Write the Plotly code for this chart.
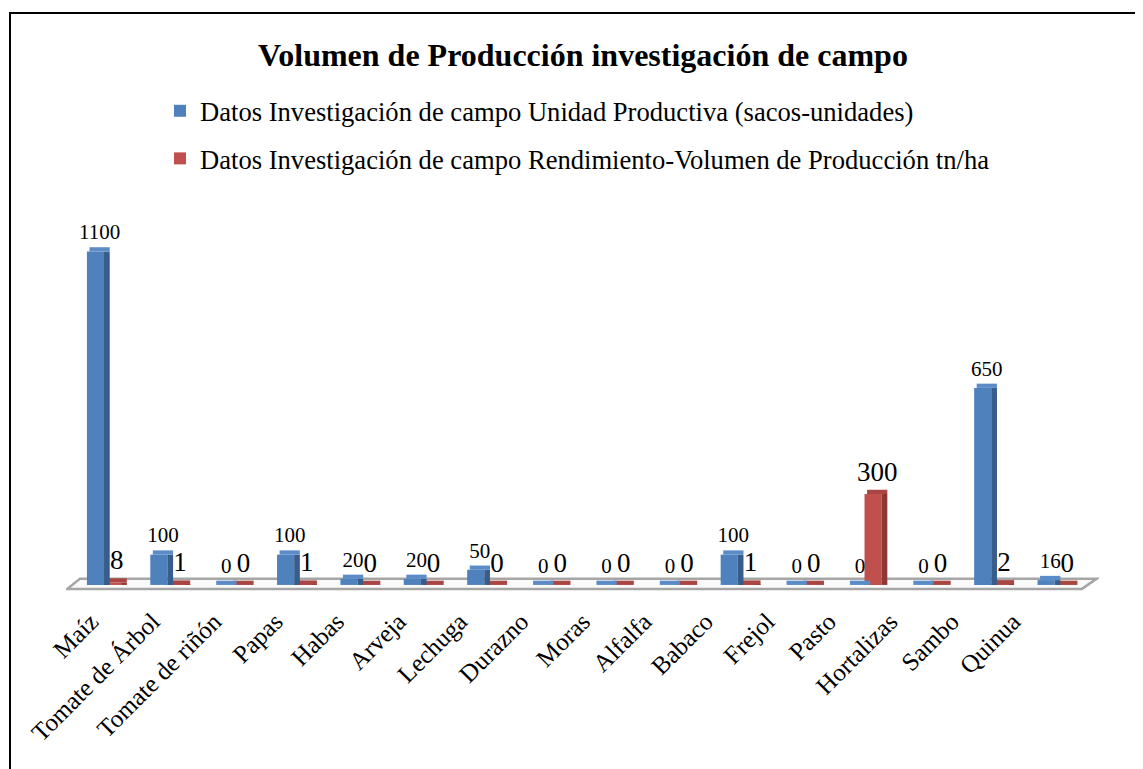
import plotly.graph_objects as go

categories = ["Maíz", "Tomate de Árbol", "Tomate de riñón", "Papas", "Habas", "Arveja",
              "Lechuga", "Durazno", "Moras", "Alfalfa", "Babaco", "Frejol", "Pasto",
              "Hortalizas", "Sambo", "Quinua"]
unidad_productiva = [1100, 100, 0, 100, 20, 20, 50, 0, 0, 0, 100, 0, 0, 0, 650, 16]
rendimiento = [8, 1, 0, 1, 0, 0, 0, 0, 0, 0, 1, 0, 300, 0, 2, 0]

name_blue = "Datos Investigación de campo Unidad Productiva (sacos-unidades)"
name_red = "Datos Investigación de campo Rendimiento-Volumen de Producción tn/ha"

FONT = "Liberation Serif, Times New Roman, serif"
BLUE, BLUE_SIDE, BLUE_TOP = "#4F81BD", "#385D8A", "#5B8CC8"
RED, RED_SIDE, RED_TOP = "#C0504D", "#8C3836", "#A94643"

x = list(range(len(categories)))
# perspective: category labels sit slightly tighter than the bars
label_pos = [i * 0.97 - 0.205 for i in x]
W, SW = 0.27, 0.09
DEPTH = 14  # visual thickness of the 3-D top face (in axis units)


def add_series(values, face, side, top, name, rank, offset, fsize):
    fig.add_trace(go.Bar(x=x, y=values, offset=offset, width=W,
                         marker=dict(color=face, line=dict(width=0)),
                         name=name, legendgroup=name, legendrank=rank))
    fig.add_trace(go.Bar(x=x, y=values, offset=offset + W, width=SW,
                         marker=dict(color=side, line=dict(width=0)),
                         showlegend=False, hoverinfo="skip"))
    fig.add_trace(go.Bar(x=x, y=[DEPTH] * len(values), base=values,
                         offset=offset + 0.04, width=W + SW - 0.04,
                         marker=dict(color=top, line=dict(width=0)),
                         text=[str(v) for v in values], textposition="outside",
                         textfont=dict(family=FONT, size=fsize, color="black"),
                         cliponaxis=False, constraintext="none",
                         showlegend=False, hoverinfo="skip"))


fig = go.Figure()
add_series(rendimiento, RED, RED_SIDE, RED_TOP, name_red, 2, 0, 27)
add_series(unidad_productiva, BLUE, BLUE_SIDE, BLUE_TOP, name_blue, 1, -W, 21)

# floor plate
fig.add_shape(type="path", xref="x", yref="y",
              path="M -0.58,-13 L -0.38,20 L 15.66,20 L 15.43,-13 Z",
              line=dict(color="#A6A6A6", width=2.5), fillcolor="#FAFAFA", layer="below")
# chart border
fig.add_shape(type="rect", xref="paper", yref="paper",
              x0=(2 - 58) / 1033, x1=1.2, y0=-0.6, y1=1 + (198 - 5) / 385,
              line=dict(color="black", width=2), fillcolor="rgba(0,0,0,0)")

fig.update_layout(
    width=1143, height=769,
    margin=dict(l=58, r=52, t=198, b=186),
    paper_bgcolor="white", plot_bgcolor="white",
    barmode="overlay",
    font=dict(family=FONT, color="black"),
    title=dict(text="<b>Volumen de Producción investigación de campo</b>",
               x=(583 - 8) / 1143, xanchor="center", y=1 - (55 - 8) / 769, yanchor="middle",
               font=dict(family=FONT, size=32, color="black")),
    legend=dict(x=(160 - 66) / 1033, xanchor="left", y=1 + (198 - 79) / 385, yanchor="top",
                font=dict(family=FONT, size=26.6, color="black"),
                traceorder="grouped", tracegroupgap=10, bgcolor="rgba(0,0,0,0)"),
    xaxis=dict(range=[-0.6, 15.7], tickmode="array", tickvals=label_pos, ticktext=categories,
               tickangle=-45, tickfont=dict(family=FONT, size=25, color="black"),
               ticklabelstandoff=10,
               showgrid=False, zeroline=False, showline=False, ticks=""),
    yaxis=dict(range=[-20, 1250], visible=False, showgrid=False, zeroline=False),
    showlegend=True,
)

fig.write_html("out.html")
